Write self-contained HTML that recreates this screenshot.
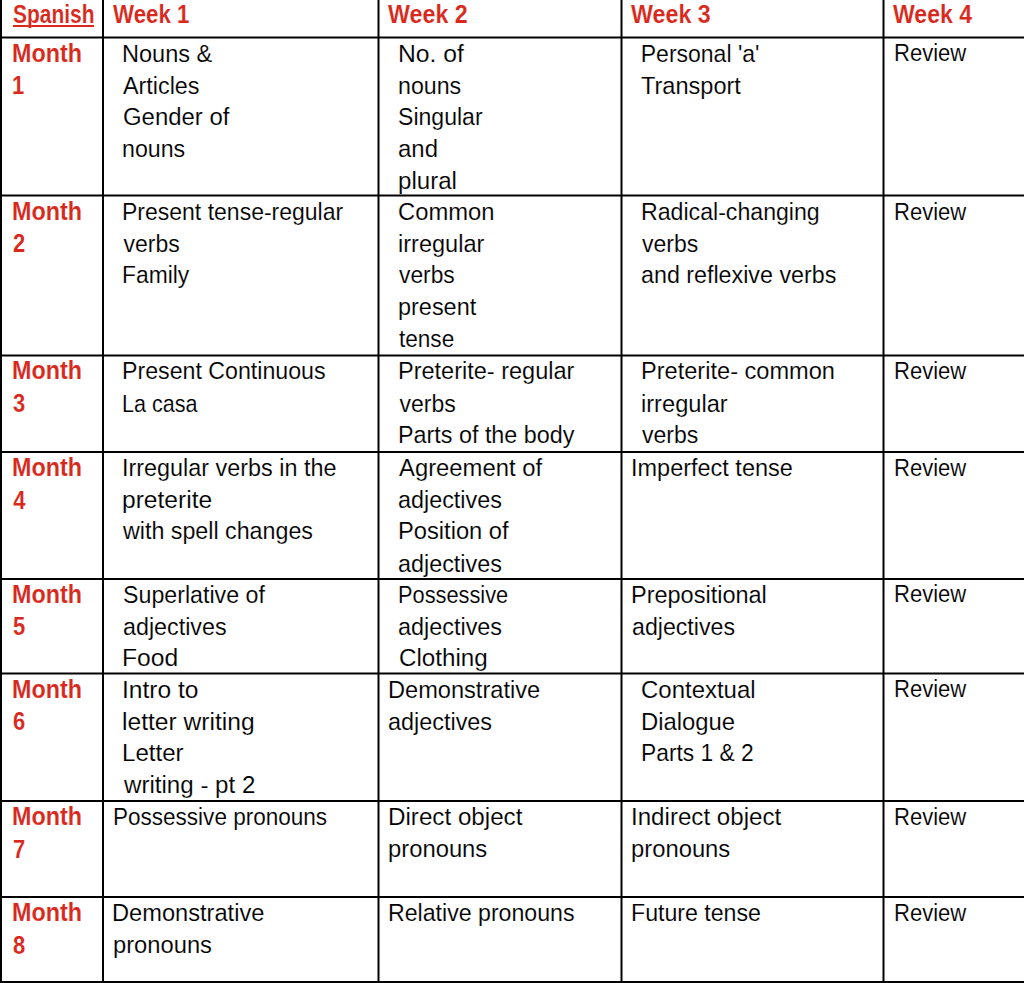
<!DOCTYPE html>
<html><head><meta charset="utf-8"><title>Spanish</title><style>
html,body{margin:0;padding:0;background:#fff;}
body{width:1024px;height:983px;position:relative;overflow:hidden;}
.grid{position:absolute;left:0;top:0;fill:#000;}
.r,.b{position:absolute;white-space:pre;line-height:1;font-family:"Liberation Sans",sans-serif;}
.r{font-size:23.0px;color:#000;font-weight:400;-webkit-text-stroke:0.12px #fff;}
.b{font-size:22.0px;color:#d8291c;font-weight:700;-webkit-text-stroke:0.1px #fff;}
.ul{position:absolute;background:#d8291c;}
</style></head><body>
<svg class="grid" width="1024" height="983" viewBox="0 0 1024 983">
<rect x="0" y="36.5" width="1024" height="2"/>
<rect x="0" y="194.5" width="1024" height="2"/>
<rect x="0" y="354.5" width="1024" height="2"/>
<rect x="0" y="451" width="1024" height="2"/>
<rect x="0" y="578" width="1024" height="2"/>
<rect x="0" y="672.5" width="1024" height="2"/>
<rect x="0" y="800" width="1024" height="2"/>
<rect x="0" y="896" width="1024" height="2"/>
<rect x="0" y="981" width="1024" height="2"/>
<rect x="0" y="0" width="2" height="983"/>
<rect x="102" y="0" width="2" height="983"/>
<rect x="377.5" y="0" width="2" height="983"/>
<rect x="620.5" y="0" width="2" height="983"/>
<rect x="882.5" y="0" width="2" height="983"/>
</svg>
<div class="ul" style="left:13.3px;top:25.0px;width:81.10px;height:2.0px"></div>
<div class="b" style="left:12.75px;top:5.38px;transform:scale(0.9530,1.200);transform-origin:0 18.62px">Spanish</div>
<div class="b" style="left:113.25px;top:5.38px;transform:scale(1.0140,1.200);transform-origin:0 18.62px">Week 1</div>
<div class="b" style="left:388.40px;top:5.38px;transform:scale(1.0579,1.200);transform-origin:0 18.62px">Week 2</div>
<div class="b" style="left:630.97px;top:5.38px;transform:scale(1.0577,1.200);transform-origin:0 18.62px">Week 3</div>
<div class="b" style="left:893.14px;top:5.38px;transform:scale(1.0488,1.200);transform-origin:0 18.62px">Week 4</div>
<div class="b" style="left:12.18px;top:43.88px;transform:scale(1.0618,1.200);transform-origin:0 18.62px">Month</div>
<div class="b" style="left:12.00px;top:76.28px;transform:scale(1.0000,1.200);transform-origin:0 18.62px">1</div>
<div class="r" style="left:121.95px;top:42.73px;transform:scale(1.0233,1.000);transform-origin:0 19.47px">Nouns &amp;</div>
<div class="r" style="left:122.93px;top:75.13px;transform:scale(1.0143,1.000);transform-origin:0 19.47px">Articles</div>
<div class="r" style="left:122.96px;top:106.13px;transform:scale(1.0396,1.000);transform-origin:0 19.47px">Gender of</div>
<div class="r" style="left:121.98px;top:138.23px;transform:scale(1.0083,1.000);transform-origin:0 19.47px">nouns</div>
<div class="r" style="left:397.85px;top:42.73px;transform:scale(1.0730,1.000);transform-origin:0 19.47px">No. of</div>
<div class="r" style="left:397.98px;top:75.13px;transform:scale(1.0083,1.000);transform-origin:0 19.47px">nouns</div>
<div class="r" style="left:397.80px;top:106.13px;transform:scale(1.0024,1.000);transform-origin:0 19.47px">Singular</div>
<div class="r" style="left:398.46px;top:138.23px;transform:scale(1.0417,1.000);transform-origin:0 19.47px">and</div>
<div class="r" style="left:397.91px;top:169.73px;transform:scale(1.0472,1.000);transform-origin:0 19.47px">plural</div>
<div class="r" style="left:640.75px;top:42.73px">Personal 'a'</div>
<div class="r" style="left:640.98px;top:75.13px;transform:scale(1.0234,1.000);transform-origin:0 19.47px">Transport</div>
<div class="r" style="left:893.58px;top:42.43px;transform:scale(0.9582,1.000);transform-origin:0 19.47px">Review</div>
<div class="b" style="left:12.18px;top:201.98px;transform:scale(1.0618,1.200);transform-origin:0 18.62px">Month</div>
<div class="b" style="left:13.00px;top:234.38px;transform:scale(1.0000,1.200);transform-origin:0 18.62px">2</div>
<div class="r" style="left:122.00px;top:200.83px">Present tense-regular</div>
<div class="r" style="left:123.50px;top:233.23px">verbs</div>
<div class="r" style="left:122.02px;top:264.23px;transform:scale(0.9924,1.000);transform-origin:0 19.47px">Family</div>
<div class="r" style="left:398.09px;top:200.83px;transform:scale(1.0338,1.000);transform-origin:0 19.47px">Common</div>
<div class="r" style="left:397.55px;top:233.23px;transform:scale(1.0232,1.000);transform-origin:0 19.47px">irregular</div>
<div class="r" style="left:399.10px;top:264.23px;transform:scale(0.9908,1.000);transform-origin:0 19.47px">verbs</div>
<div class="r" style="left:397.56px;top:296.33px;transform:scale(1.0197,1.000);transform-origin:0 19.47px">present</div>
<div class="r" style="left:399.01px;top:327.83px;transform:scale(0.9811,1.000);transform-origin:0 19.47px">tense</div>
<div class="r" style="left:640.74px;top:200.83px;transform:scale(1.0057,1.000);transform-origin:0 19.47px">Radical-changing</div>
<div class="r" style="left:642.00px;top:233.23px">verbs</div>
<div class="r" style="left:640.99px;top:264.23px;transform:scale(1.0118,1.000);transform-origin:0 19.47px">and reflexive verbs</div>
<div class="r" style="left:893.58px;top:200.53px;transform:scale(0.9582,1.000);transform-origin:0 19.47px">Review</div>
<div class="b" style="left:12.18px;top:361.48px;transform:scale(1.0618,1.200);transform-origin:0 18.62px">Month</div>
<div class="b" style="left:13.00px;top:393.88px;transform:scale(1.0000,1.200);transform-origin:0 18.62px">3</div>
<div class="r" style="left:121.98px;top:360.33px;transform:scale(1.0075,1.000);transform-origin:0 19.47px">Present Continuous</div>
<div class="r" style="left:122.13px;top:392.73px;transform:scale(0.9359,1.000);transform-origin:0 19.47px">La casa</div>
<div class="r" style="left:397.96px;top:360.33px;transform:scale(1.0221,1.000);transform-origin:0 19.47px">Preterite- regular</div>
<div class="r" style="left:399.50px;top:392.73px">verbs</div>
<div class="r" style="left:397.97px;top:423.73px;transform:scale(1.0145,1.000);transform-origin:0 19.47px">Parts of the body</div>
<div class="r" style="left:640.70px;top:360.33px;transform:scale(1.0255,1.000);transform-origin:0 19.47px">Preterite- common</div>
<div class="r" style="left:640.70px;top:392.73px;transform:scale(1.0274,1.000);transform-origin:0 19.47px">irregular</div>
<div class="r" style="left:642.00px;top:423.73px">verbs</div>
<div class="r" style="left:893.58px;top:360.03px;transform:scale(0.9582,1.000);transform-origin:0 19.47px">Review</div>
<div class="b" style="left:12.18px;top:458.18px;transform:scale(1.0618,1.200);transform-origin:0 18.62px">Month</div>
<div class="b" style="left:13.36px;top:490.58px;transform:scale(1.0000,1.200);transform-origin:0 18.62px">4</div>
<div class="r" style="left:122.47px;top:457.03px;transform:scale(1.0168,1.000);transform-origin:0 19.47px">Irregular verbs in the</div>
<div class="r" style="left:121.86px;top:489.43px;transform:scale(1.0682,1.000);transform-origin:0 19.47px">preterite</div>
<div class="r" style="left:123.02px;top:520.43px;transform:scale(1.0106,1.000);transform-origin:0 19.47px">with spell changes</div>
<div class="r" style="left:399.00px;top:457.03px;transform:scale(1.0362,1.000);transform-origin:0 19.47px">Agreement of</div>
<div class="r" style="left:398.49px;top:489.43px;transform:scale(1.0150,1.000);transform-origin:0 19.47px">adjectives</div>
<div class="r" style="left:397.74px;top:520.43px;transform:scale(1.0295,1.000);transform-origin:0 19.47px">Position of</div>
<div class="r" style="left:398.49px;top:552.53px;transform:scale(1.0150,1.000);transform-origin:0 19.47px">adjectives</div>
<div class="r" style="left:631.46px;top:457.03px;transform:scale(1.0207,1.000);transform-origin:0 19.47px">Imperfect tense</div>
<div class="r" style="left:893.58px;top:456.73px;transform:scale(0.9582,1.000);transform-origin:0 19.47px">Review</div>
<div class="b" style="left:12.18px;top:584.78px;transform:scale(1.0618,1.200);transform-origin:0 18.62px">Month</div>
<div class="b" style="left:13.00px;top:617.18px;transform:scale(1.0000,1.200);transform-origin:0 18.62px">5</div>
<div class="r" style="left:122.99px;top:583.63px;transform:scale(1.0089,1.000);transform-origin:0 19.47px">Superlative of</div>
<div class="r" style="left:122.99px;top:616.03px;transform:scale(1.0125,1.000);transform-origin:0 19.47px">adjectives</div>
<div class="r" style="left:121.86px;top:647.03px;transform:scale(1.0714,1.000);transform-origin:0 19.47px">Food</div>
<div class="r" style="left:398.11px;top:583.63px;transform:scale(0.9469,1.000);transform-origin:0 19.47px">Possessive</div>
<div class="r" style="left:398.48px;top:616.03px;transform:scale(1.0175,1.000);transform-origin:0 19.47px">adjectives</div>
<div class="r" style="left:398.95px;top:647.03px;transform:scale(1.0518,1.000);transform-origin:0 19.47px">Clothing</div>
<div class="r" style="left:631.46px;top:583.63px;transform:scale(1.0213,1.000);transform-origin:0 19.47px">Prepositional</div>
<div class="r" style="left:631.74px;top:616.03px;transform:scale(1.0067,1.000);transform-origin:0 19.47px">adjectives</div>
<div class="r" style="left:893.58px;top:583.33px;transform:scale(0.9582,1.000);transform-origin:0 19.47px">Review</div>
<div class="b" style="left:12.18px;top:679.88px;transform:scale(1.0618,1.200);transform-origin:0 18.62px">Month</div>
<div class="b" style="left:13.00px;top:712.28px;transform:scale(1.0000,1.200);transform-origin:0 18.62px">6</div>
<div class="r" style="left:122.36px;top:678.73px;transform:scale(1.0688,1.000);transform-origin:0 19.47px">Intro to</div>
<div class="r" style="left:121.86px;top:711.13px;transform:scale(1.0702,1.000);transform-origin:0 19.47px">letter writing</div>
<div class="r" style="left:122.41px;top:742.13px;transform:scale(1.0465,1.000);transform-origin:0 19.47px">Letter</div>
<div class="r" style="left:124.00px;top:774.23px;transform:scale(1.0484,1.000);transform-origin:0 19.47px">writing - pt 2</div>
<div class="r" style="left:387.95px;top:678.73px;transform:scale(1.0259,1.000);transform-origin:0 19.47px">Demonstrative</div>
<div class="r" style="left:388.48px;top:711.13px;transform:scale(1.0175,1.000);transform-origin:0 19.47px">adjectives</div>
<div class="r" style="left:640.96px;top:678.73px;transform:scale(1.0421,1.000);transform-origin:0 19.47px">Contextual</div>
<div class="r" style="left:640.68px;top:711.13px;transform:scale(1.0369,1.000);transform-origin:0 19.47px">Dialogue</div>
<div class="r" style="left:640.77px;top:742.13px;transform:scale(0.9910,1.000);transform-origin:0 19.47px">Parts 1 &amp; 2</div>
<div class="r" style="left:893.58px;top:678.43px;transform:scale(0.9582,1.000);transform-origin:0 19.47px">Review</div>
<div class="b" style="left:12.18px;top:807.18px;transform:scale(1.0618,1.200);transform-origin:0 18.62px">Month</div>
<div class="b" style="left:13.00px;top:839.58px;transform:scale(1.0000,1.200);transform-origin:0 18.62px">7</div>
<div class="r" style="left:112.54px;top:806.03px;transform:scale(0.9792,1.000);transform-origin:0 19.47px">Possessive pronouns</div>
<div class="r" style="left:387.90px;top:806.03px;transform:scale(1.0516,1.000);transform-origin:0 19.47px">Direct object</div>
<div class="r" style="left:387.93px;top:838.43px;transform:scale(1.0349,1.000);transform-origin:0 19.47px">pronouns</div>
<div class="r" style="left:631.40px;top:806.03px;transform:scale(1.0491,1.000);transform-origin:0 19.47px">Indirect object</div>
<div class="r" style="left:630.68px;top:838.43px;transform:scale(1.0349,1.000);transform-origin:0 19.47px">pronouns</div>
<div class="r" style="left:893.58px;top:805.73px;transform:scale(0.9582,1.000);transform-origin:0 19.47px">Review</div>
<div class="b" style="left:12.18px;top:903.18px;transform:scale(1.0618,1.200);transform-origin:0 18.62px">Month</div>
<div class="b" style="left:13.00px;top:935.58px;transform:scale(1.0000,1.200);transform-origin:0 18.62px">8</div>
<div class="r" style="left:112.44px;top:902.03px;transform:scale(1.0276,1.000);transform-origin:0 19.47px">Demonstrative</div>
<div class="r" style="left:112.97px;top:934.43px;transform:scale(1.0319,1.000);transform-origin:0 19.47px">pronouns</div>
<div class="r" style="left:388.49px;top:902.03px;transform:scale(1.0061,1.000);transform-origin:0 19.47px">Relative pronouns</div>
<div class="r" style="left:631.49px;top:902.03px;transform:scale(1.0060,1.000);transform-origin:0 19.47px">Future tense</div>
<div class="r" style="left:893.58px;top:901.73px;transform:scale(0.9582,1.000);transform-origin:0 19.47px">Review</div>
</body></html>
